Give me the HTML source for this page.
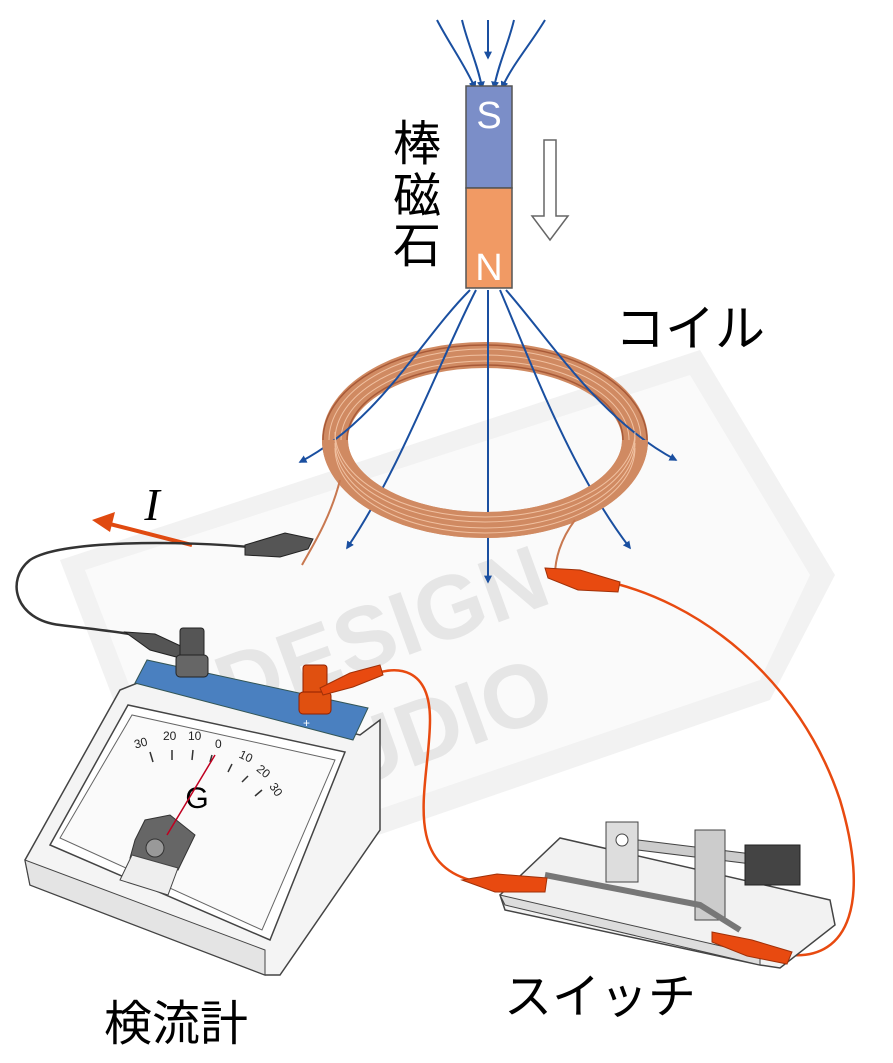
<!DOCTYPE html>
<html><head><meta charset="utf-8"><style>
html,body{margin:0;padding:0;background:#fff}
svg{display:block}
text{font-family:"Liberation Sans","Noto Sans CJK JP",sans-serif}
</style></head><body>
<svg width="893" height="1063" viewBox="0 0 893 1063" xmlns="http://www.w3.org/2000/svg">
<defs>
<marker id="ab" viewBox="0 0 10 10" refX="8" refY="5" markerWidth="4" markerHeight="4" orient="auto"><path d="M0,0L10,5L0,10z" fill="#1a4fa0"/></marker>
</defs>
<!-- watermark -->
<polygon points="60,560 700,350 835,575 770,700 190,900" fill="#f2f2f2"/>
<polygon points="85,570 690,375 810,575 760,680 200,870" fill="#fafafa"/>
<text x="230" y="720" font-size="90" font-weight="bold" fill="#e6e6e6" transform="rotate(-20 230 720)">DESIGN</text>
<text x="240" y="830" font-size="90" font-weight="bold" fill="#e6e6e6" transform="rotate(-20 240 830)">STUDIO</text>

<!-- field lines top -->
<g stroke="#1a4fa0" stroke-width="2" fill="none" marker-end="url(#ab)">
<path d="M437,20 C450,45 465,65 475,88"/>
<path d="M462,20 C468,45 478,65 482,88"/>
<path d="M488,20 L488,58"/>
<path d="M514,20 C508,45 498,65 494,88"/>
<path d="M545,20 C530,45 512,65 502,88"/>
</g>
<!-- magnet -->
<rect x="466" y="86" width="46" height="102" fill="#7b8ec8" stroke="#555" stroke-width="1.5"/>
<rect x="466" y="188" width="46" height="100" fill="#f19a64" stroke="#555" stroke-width="1.5"/>
<text x="489" y="128" font-size="38" fill="#fff" text-anchor="middle">S</text>
<text x="489" y="280" font-size="38" fill="#fff" text-anchor="middle">N</text>
<text x="417" y="160" font-size="48" text-anchor="middle">棒</text>
<text x="417" y="212" font-size="48" text-anchor="middle">磁</text>
<text x="417" y="262" font-size="48" text-anchor="middle">石</text>
<path d="M544,140 h12 v76 h12 l-18,24 l-18,-24 h12z" fill="#fff" stroke="#666" stroke-width="1.5"/>
<text x="690" y="346" font-size="50" text-anchor="middle">コイル</text>

<!-- coil back -->
<ellipse cx="485" cy="440" rx="150" ry="85" fill="none" stroke="#d08a62" stroke-width="26"/>
<g fill="none" stroke="#f0c0a0" stroke-width="1">
<ellipse cx="485" cy="440" rx="144" ry="79"/>
<ellipse cx="485" cy="440" rx="150" ry="85"/>
<ellipse cx="485" cy="440" rx="156" ry="91"/>
</g>
<ellipse cx="485" cy="440" rx="162" ry="95" fill="none" stroke="#a85a38" stroke-width="1.5"/>
<ellipse cx="485" cy="440" rx="138" ry="75" fill="none" stroke="#a85a38" stroke-width="1.5"/>
<!-- field lines bottom -->
<g stroke="#1a4fa0" stroke-width="2" fill="none" marker-end="url(#ab)">
<path d="M470,290 C420,340 380,420 300,462"/>
<path d="M476,290 C440,360 400,470 347,548"/>
<path d="M488,290 L488,582"/>
<path d="M500,290 C530,360 570,470 630,548"/>
<path d="M506,290 C550,340 600,420 676,460"/>
</g>
<!-- coil front arc -->
<path d="M335,440 A150,85 0 0 0 635,440" fill="none" stroke="#d08a62" stroke-width="26"/>
<g fill="none" stroke="#f0c0a0" stroke-width="1">
<path d="M335,440 A150,85 0 0 0 635,440" transform="translate(0,-8)"/>
<path d="M335,440 A150,85 0 0 0 635,440" transform="translate(0,-3)"/>
<path d="M335,440 A150,85 0 0 0 635,440" transform="translate(0,3)"/>
<path d="M335,440 A150,85 0 0 0 635,440" transform="translate(0,8)"/>
</g>
<path d="M340,480 C330,520 310,550 302,565" stroke="#c87850" stroke-width="2" fill="none"/>
<path d="M575,520 C560,540 555,560 555,575" stroke="#c87850" stroke-width="2" fill="none"/>

<!-- I arrow -->
<text x="152" y="520" style="font-family:'Liberation Serif',serif;font-style:italic" font-size="46" text-anchor="middle">I</text>
<line x1="192" y1="545" x2="110" y2="524" stroke="#e04a10" stroke-width="4"/>
<polygon points="92,520 115,512 110,532" fill="#e04a10"/>

<!-- black wire -->
<path d="M260,548 C180,540 60,540 30,560 C5,580 15,620 60,625 C100,630 120,632 135,635" stroke="#333" stroke-width="2.5" fill="none"/>
<path d="M245,545 l40,-12 l28,6 l-5,10 l-28,8 l-35,-2z" fill="#555" stroke="#222"/>
<path d="M125,632 l30,2 l30,14 l-5,10 l-30,-8z" fill="#555" stroke="#222"/>

<!-- red wire -->
<path d="M360,680 C400,660 430,670 430,720 C430,780 400,860 470,880" stroke="#e84a10" stroke-width="2.5" fill="none"/>
<path d="M600,580 C700,600 800,680 840,800 C870,900 850,960 790,955" stroke="#e84a10" stroke-width="2.5" fill="none"/>
<path d="M545,568 l35,2 l40,12 l-2,10 l-40,-2 l-30,-12z" fill="#e84a10" stroke="#a03008"/>

<!-- galvanometer -->
<path d="M25,860 L120,690 L140,682 L360,735 L380,720 L380,830 L280,975 L265,975 L30,885z" fill="#f4f4f4" stroke="#444" stroke-width="1.5"/>
<path d="M135,683 L147,660 L368,708 L353,740z" fill="#4a80c0" stroke="#355" stroke-width="1"/>
<path d="M25,860 L30,885 L265,975 L265,950z" fill="#e4e4e4" stroke="#444" stroke-width="1"/>
<path d="M50,845 L128,705 L345,752 L270,940z" fill="#fff" stroke="#444" stroke-width="1.5"/>
<path d="M60,838 L132,715 L335,760 L262,930z" fill="#fafafa" stroke="#666" stroke-width="1"/>
<g font-size="12" fill="#222">
<text x="135" y="746" transform="rotate(-15 145 746)">30</text>
<text x="163" y="740">20</text>
<text x="188" y="740">10</text>
<text x="215" y="748">0</text>
<text x="238" y="758" transform="rotate(25 240 758)">10</text>
<text x="255" y="772" transform="rotate(40 258 772)">20</text>
<text x="268" y="788" transform="rotate(55 270 788)">30</text>
</g>
<g stroke="#333" stroke-width="1.5">
<line x1="150" y1="752" x2="153" y2="762"/><line x1="172" y1="750" x2="172" y2="760"/><line x1="193" y1="750" x2="192" y2="760"/><line x1="212" y1="755" x2="210" y2="762"/><line x1="232" y1="764" x2="228" y2="772"/><line x1="248" y1="776" x2="242" y2="782"/><line x1="262" y1="790" x2="255" y2="796"/>
</g>
<text x="197" y="808" font-size="30" text-anchor="middle">G</text>
<path d="M135,840 L145,820 L170,815 L195,835 L178,870 L130,858z" fill="#666" stroke="#333"/>
<path d="M120,880 L132,855 L178,868 L168,895z" fill="#eee" stroke="#444"/>
<circle cx="155" cy="848" r="9" fill="#999" stroke="#333"/>
<line x1="167" y1="835" x2="215" y2="755" stroke="#c00020" stroke-width="1.5"/>
<!-- terminals -->
<rect x="180" y="628" width="24" height="30" rx="3" fill="#555" stroke="#222"/>
<rect x="176" y="655" width="32" height="22" rx="4" fill="#666" stroke="#222"/>
<rect x="303" y="665" width="24" height="30" rx="3" fill="#e05010" stroke="#902000"/>
<rect x="299" y="692" width="32" height="22" rx="4" fill="#e05010" stroke="#902000"/>
<path d="M320,688 l30,-15 l30,-8 l3,10 l-30,12 l-30,8z" fill="#e84a10" stroke="#a03008"/>
<text x="303" y="727" font-size="12" fill="#fff">+</text>

<!-- switch -->
<path d="M500,895 L560,838 L830,900 L835,925 L780,968 L760,965 L505,910z" fill="#f2f2f2" stroke="#444" stroke-width="1.5"/>
<path d="M505,905 L500,895 L760,955 L760,965z" fill="#ddd" stroke="#444" stroke-width="1"/>
<rect x="606" y="822" width="32" height="60" fill="#ddd" stroke="#444"/>
<circle cx="622" cy="840" r="6" fill="#fff" stroke="#444"/>
<polygon points="638,840 760,855 760,865 638,850" fill="#ccc" stroke="#444"/>
<rect x="695" y="830" width="30" height="90" fill="#ccc" stroke="#444"/>
<rect x="745" y="845" width="55" height="40" fill="#444" stroke="#222"/>
<path d="M545,875 L700,905 L740,930" fill="none" stroke="#777" stroke-width="6"/>
<path d="M462,880 l35,-6 l50,4 l-2,14 l-50,0z" fill="#e84a10" stroke="#a03008"/>
<path d="M712,932 l40,8 l40,12 l-5,12 l-40,-8 l-35,-14z" fill="#e84a10" stroke="#a03008"/>

<text x="176" y="1040" font-size="48" text-anchor="middle">検流計</text>
<text x="600" y="1013" font-size="48" text-anchor="middle">スイッチ</text>
</svg>
</body></html>
